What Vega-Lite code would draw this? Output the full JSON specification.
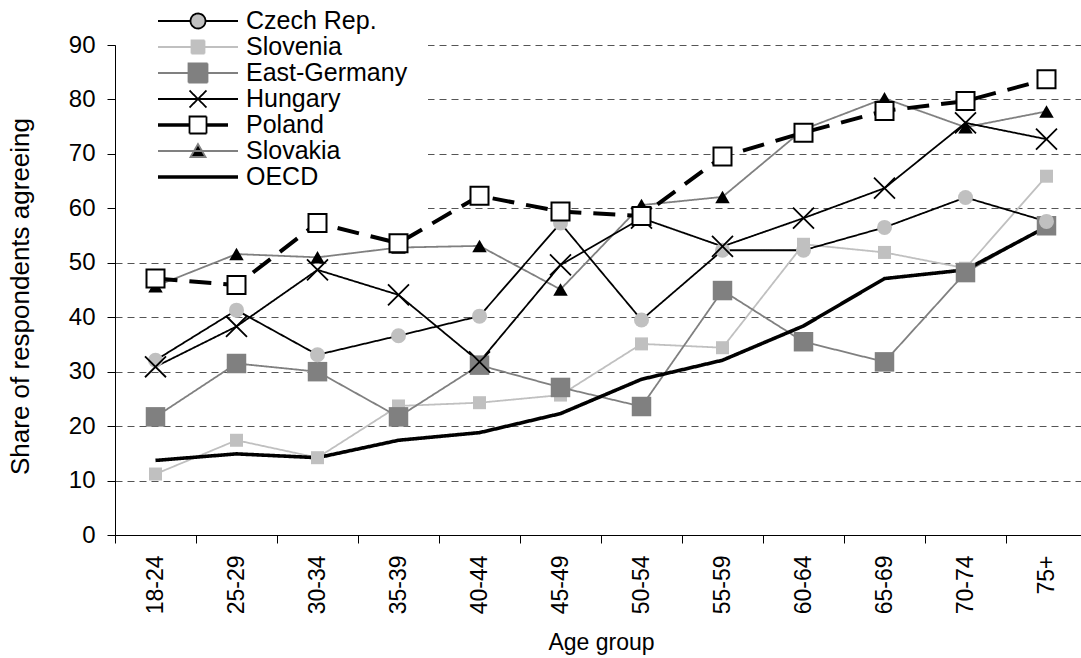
{
  "$schema": "https://vega.github.io/schema/vega-lite/v6.json",
  "width": 966,
  "height": 490,
  "autosize": {"type": "none"},
  "padding": {"left": 115, "top": 45, "right": 0, "bottom": 123},
  "background": "white",
  "config": {"view": {"stroke": null}, "font": "Liberation Sans"},
  "data": {"values": [
    {"age": "18-24", "series": "Slovenia", "value": 11.2},
    {"age": "25-29", "series": "Slovenia", "value": 17.4},
    {"age": "30-34", "series": "Slovenia", "value": 14.2},
    {"age": "35-39", "series": "Slovenia", "value": 23.7},
    {"age": "40-44", "series": "Slovenia", "value": 24.3},
    {"age": "45-49", "series": "Slovenia", "value": 25.7},
    {"age": "50-54", "series": "Slovenia", "value": 35.1},
    {"age": "55-59", "series": "Slovenia", "value": 34.4},
    {"age": "60-64", "series": "Slovenia", "value": 53.4},
    {"age": "65-69", "series": "Slovenia", "value": 51.9},
    {"age": "70-74", "series": "Slovenia", "value": 49.0},
    {"age": "75+", "series": "Slovenia", "value": 65.9},
    {"age": "18-24", "series": "East-Germany", "value": 21.7},
    {"age": "25-29", "series": "East-Germany", "value": 31.5},
    {"age": "30-34", "series": "East-Germany", "value": 30.0},
    {"age": "35-39", "series": "East-Germany", "value": 21.7},
    {"age": "40-44", "series": "East-Germany", "value": 31.2},
    {"age": "45-49", "series": "East-Germany", "value": 27.1},
    {"age": "50-54", "series": "East-Germany", "value": 23.6},
    {"age": "55-59", "series": "East-Germany", "value": 44.9},
    {"age": "60-64", "series": "East-Germany", "value": 35.5},
    {"age": "65-69", "series": "East-Germany", "value": 31.8},
    {"age": "70-74", "series": "East-Germany", "value": 48.2},
    {"age": "75+", "series": "East-Germany", "value": 56.8},
    {"age": "18-24", "series": "Slovakia", "value": 45.7},
    {"age": "25-29", "series": "Slovakia", "value": 51.6},
    {"age": "30-34", "series": "Slovakia", "value": 51.0},
    {"age": "35-39", "series": "Slovakia", "value": 52.8},
    {"age": "40-44", "series": "Slovakia", "value": 53.1},
    {"age": "45-49", "series": "Slovakia", "value": 45.1},
    {"age": "50-54", "series": "Slovakia", "value": 60.6},
    {"age": "55-59", "series": "Slovakia", "value": 62.1},
    {"age": "60-64", "series": "Slovakia", "value": 74.5},
    {"age": "65-69", "series": "Slovakia", "value": 80.2},
    {"age": "70-74", "series": "Slovakia", "value": 74.9},
    {"age": "75+", "series": "Slovakia", "value": 77.8},
    {"age": "18-24", "series": "Czech Rep.", "value": 32.1},
    {"age": "25-29", "series": "Czech Rep.", "value": 41.3},
    {"age": "30-34", "series": "Czech Rep.", "value": 33.1},
    {"age": "35-39", "series": "Czech Rep.", "value": 36.6},
    {"age": "40-44", "series": "Czech Rep.", "value": 40.2},
    {"age": "45-49", "series": "Czech Rep.", "value": 57.3},
    {"age": "50-54", "series": "Czech Rep.", "value": 39.5},
    {"age": "55-59", "series": "Czech Rep.", "value": 52.3},
    {"age": "60-64", "series": "Czech Rep.", "value": 52.3},
    {"age": "65-69", "series": "Czech Rep.", "value": 56.5},
    {"age": "70-74", "series": "Czech Rep.", "value": 62.0},
    {"age": "75+", "series": "Czech Rep.", "value": 57.6},
    {"age": "18-24", "series": "Hungary", "value": 30.9},
    {"age": "25-29", "series": "Hungary", "value": 38.3},
    {"age": "30-34", "series": "Hungary", "value": 48.7},
    {"age": "35-39", "series": "Hungary", "value": 44.1},
    {"age": "40-44", "series": "Hungary", "value": 31.8},
    {"age": "45-49", "series": "Hungary", "value": 49.6},
    {"age": "50-54", "series": "Hungary", "value": 58.2},
    {"age": "55-59", "series": "Hungary", "value": 53.0},
    {"age": "60-64", "series": "Hungary", "value": 58.2},
    {"age": "65-69", "series": "Hungary", "value": 63.7},
    {"age": "70-74", "series": "Hungary", "value": 75.7},
    {"age": "75+", "series": "Hungary", "value": 72.7},
    {"age": "18-24", "series": "Poland", "value": 47.1},
    {"age": "25-29", "series": "Poland", "value": 45.9},
    {"age": "30-34", "series": "Poland", "value": 57.3},
    {"age": "35-39", "series": "Poland", "value": 53.6},
    {"age": "40-44", "series": "Poland", "value": 62.3},
    {"age": "45-49", "series": "Poland", "value": 59.4},
    {"age": "50-54", "series": "Poland", "value": 58.6},
    {"age": "55-59", "series": "Poland", "value": 69.5},
    {"age": "60-64", "series": "Poland", "value": 73.9},
    {"age": "65-69", "series": "Poland", "value": 77.9},
    {"age": "70-74", "series": "Poland", "value": 79.7},
    {"age": "75+", "series": "Poland", "value": 83.7},
    {"age": "18-24", "series": "OECD", "value": 13.7},
    {"age": "25-29", "series": "OECD", "value": 14.9},
    {"age": "30-34", "series": "OECD", "value": 14.2},
    {"age": "35-39", "series": "OECD", "value": 17.4},
    {"age": "40-44", "series": "OECD", "value": 18.8},
    {"age": "45-49", "series": "OECD", "value": 22.3},
    {"age": "50-54", "series": "OECD", "value": 28.6},
    {"age": "55-59", "series": "OECD", "value": 32.1},
    {"age": "60-64", "series": "OECD", "value": 38.4},
    {"age": "65-69", "series": "OECD", "value": 47.1},
    {"age": "70-74", "series": "OECD", "value": 48.7},
    {"age": "75+", "series": "OECD", "value": 56.6}
  ]},
  "encoding": {
    "x": {
      "field": "age", "type": "nominal",
      "sort": ["18-24","25-29","30-34","35-39","40-44","45-49","50-54","55-59","60-64","65-69","70-74","75+"],
      "scale": {"type": "band", "paddingInner": 0, "paddingOuter": 0, "range": [0, 972]},
      "axis": {
        "title": "Age group", "titleFont": "Liberation Sans", "titleFontSize": 23, "titleFontWeight": "normal",
        "titleColor": "black", "titlePadding": 18,
        "labelAngle": -90, "labelAlign": "right", "labelBaseline": "middle",
        "labelFont": "Liberation Sans", "labelFontSize": 23, "labelColor": "black", "labelPadding": 12,
        "labelOverlap": false, "labelLimit": 300,
        "tickBand": "extent", "tickSize": 8, "tickColor": "black", "domainColor": "black", "grid": false
      }
    },
    "y": {
      "field": "value", "type": "quantitative",
      "scale": {"domain": [0, 90], "nice": false, "zero": true},
      "axis": {
        "title": "Share of respondents agreeing", "titleFont": "Liberation Sans", "titleFontSize": 26,
        "titleFontWeight": "normal", "titleColor": "black", "titlePadding": 35, "titleY": 251,
        "values": [0, 10, 20, 30, 40, 50, 60, 70, 80, 90],
        "labelFont": "Liberation Sans", "labelFontSize": 24, "labelColor": "black", "labelPadding": 12,
        "tickSize": 8, "tickColor": "black", "domainColor": "black",
        "grid": true, "gridDash": [7, 5], "gridColor": "#555555", "gridWidth": 1
      }
    }
  },
  "layer": [
    {
      "mark": {"type": "line", "strokeCap": "butt"},
      "encoding": {
        "color": {
          "field": "series", "type": "nominal",
          "scale": {
            "domain": ["Czech Rep.", "Slovenia", "East-Germany", "Hungary", "Poland", "Slovakia", "OECD"],
            "range": ["black", "#c0c0c0", "#808080", "black", "black", "#808080", "black"]
          },
          "legend": {
            "orient": "none", "legendX": 1, "legendY": -56.5, "title": null,
            "fillColor": "white", "padding": 20,
            "symbolSize": 400, "symbolStrokeWidth": 1.8, "symbolOffset": 49.5, "labelOffset": 35.5,
            "labelFont": "Liberation Sans", "labelFontSize": 25, "labelColor": "black", "labelLimit": 400,
            "rowPadding": -3.3,
            "encode": {
              "symbols": {
                "update": {
                  "shape": [
                    {"test": "datum.value === 'Czech Rep.'", "value": "M-4,0H-0.75M0.75,0H4M-0.75,0A0.75,0.75,0,1,0,0.75,0A0.75,0.75,0,1,0,-0.75,0Z"},
                    {"test": "datum.value === 'Slovenia'", "value": "M-4,0H4M-0.65,-0.65H0.65V0.65H-0.65Z"},
                    {"test": "datum.value === 'East-Germany'", "value": "M-4,0H4M-0.95,-0.95H0.95V0.95H-0.95Z"},
                    {"test": "datum.value === 'Hungary'", "value": "M-4,0H4M-0.85,-0.85L0.85,0.85M-0.85,0.85L0.85,-0.85"},
                    {"test": "datum.value === 'Poland'", "value": "M-4,-0.09H-0.9M-4,0.09H-0.9M0.9,-0.09H3M0.9,0.09H3M-0.85,-0.85H0.85V0.85H-0.85Z"},
                    {"test": "datum.value === 'Slovakia'", "value": "M-4,0H4M0,-0.7L0.75,0.6L-0.75,0.6Z"},
                    {"value": "M-4,-0.09H4M-4,0.09H4"}
                  ],
                  "fill": [
                    {"test": "datum.value === 'Czech Rep.'", "value": "#c0c0c0"},
                    {"test": "datum.value === 'Slovenia'", "value": "#c0c0c0"},
                    {"test": "datum.value === 'East-Germany'", "value": "#808080"},
                    {"test": "datum.value === 'Poland'", "value": "white"},
                    {"test": "datum.value === 'Slovakia'", "value": "black"},
                    {"value": "transparent"}
                  ],
                  "strokeDash": {"value": [1, 0]}
                }
              }
            }
          }
        },
        "strokeDash": {
          "condition": {"test": "datum.series === 'Poland'", "value": [22, 12]},
          "value": [1, 0]
        },
        "strokeWidth": {
          "condition": [
            {"test": "datum.series === 'OECD'", "value": 3.6},
            {"test": "datum.series === 'Poland'", "value": 4}
          ],
          "value": 1.8
        }
      }
    },
    {
      "transform": [{"filter": "datum.series !== 'OECD'"}],
      "mark": {"type": "point", "opacity": 1},
      "encoding": {
        "shape": {
          "field": "series", "type": "nominal",
          "scale": {
            "domain": ["Czech Rep.", "Slovenia", "East-Germany", "Hungary", "Poland", "Slovakia"],
            "range": ["circle", "square", "square", "M-1,-1L1,1M-1,1L1,-1", "square", "triangle-up"]
          },
          "legend": null
        },
        "fill": {
          "field": "series", "type": "nominal",
          "scale": {
            "domain": ["Czech Rep.", "Slovenia", "East-Germany", "Hungary", "Poland", "Slovakia"],
            "range": ["#c0c0c0", "#c0c0c0", "#808080", "transparent", "white", "black"]
          },
          "legend": null
        },
        "stroke": {
          "field": "series", "type": "nominal",
          "scale": {
            "domain": ["Czech Rep.", "Slovenia", "East-Germany", "Hungary", "Poland", "Slovakia"],
            "range": ["#c0c0c0", "#c0c0c0", "#808080", "black", "black", "black"]
          },
          "legend": null
        },
        "size": {
          "condition": [
            {"test": "datum.series === 'Czech Rep.'", "value": 225},
            {"test": "datum.series === 'Slovenia'", "value": 169},
            {"test": "datum.series === 'East-Germany'", "value": 380},
            {"test": "datum.series === 'Hungary'", "value": 440},
            {"test": "datum.series === 'Poland'", "value": 324}
          ],
          "value": 210
        },
        "strokeWidth": {
          "condition": [
            {"test": "datum.series === 'Hungary'", "value": 1.8},
            {"test": "datum.series === 'Poland'", "value": 2}
          ],
          "value": 0
        }
      }
    }
  ]
}
